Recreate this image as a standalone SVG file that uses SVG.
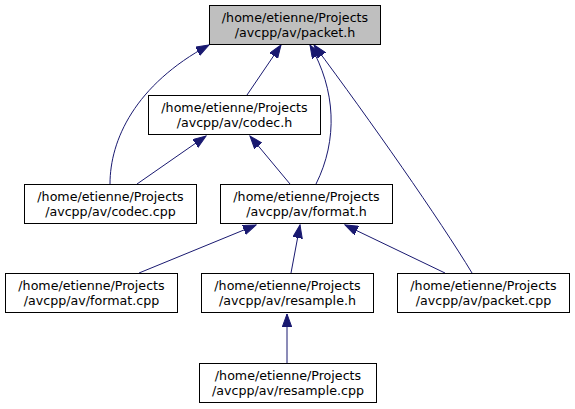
<svg xmlns="http://www.w3.org/2000/svg" width="575" height="409" viewBox="0 0 575 409">
<style>
.box{fill:#ffffff;stroke:#000000;stroke-width:1}
.root{fill:#bfbfbf;stroke:#000000;stroke-width:1}
text{font-family:"DejaVu Sans","Liberation Sans",sans-serif;font-size:12.65px;fill:#000000;text-anchor:middle}
.edge{fill:none;stroke:#191970;stroke-width:1;marker-end:url(#arr)}
</style>
<defs>
<marker id="arr" markerUnits="userSpaceOnUse" markerWidth="14" markerHeight="10" refX="13" refY="4.75" orient="auto">
<path d="M0,0 L13,4.75 L0,9.5 z" fill="#191970" stroke="#191970" stroke-width="1"/>
</marker>
</defs>
<rect width="575" height="409" fill="#ffffff"/>
<g id="connectors">
<path class="edge" d="M110,184 C110,140 135,85 209,45"/>
<path class="edge" d="M247,95 L281,45"/>
<path class="edge" d="M316,184 C338,140 336,90 310,45"/>
<path class="edge" d="M472,273 C440,220 370,120 314,45"/>
<path class="edge" d="M137,184 L206,136"/>
<path class="edge" d="M290,184 L250,136"/>
<path class="edge" d="M139,273 L256,225"/>
<path class="edge" d="M291,273 L300,225"/>
<path class="edge" d="M445,273 L345,225"/>
<path class="edge" d="M287,363 L287,314"/>
</g>
<g id="packet_h">
<rect class="root" x="209.5" y="5.5" width="171" height="39"/>
<text x="295" y="22">/home/etienne/Projects</text>
<text x="295" y="37">/avcpp/av/packet.h</text>
</g>
<g id="codec_h">
<rect class="box" x="148.5" y="95.5" width="172" height="39"/>
<text x="234.5" y="112">/home/etienne/Projects</text>
<text x="234.5" y="127">/avcpp/av/codec.h</text>
</g>
<g id="codec_cpp">
<rect class="box" x="24.5" y="184.5" width="172" height="39"/>
<text x="110.5" y="201">/home/etienne/Projects</text>
<text x="110.5" y="216">/avcpp/av/codec.cpp</text>
</g>
<g id="format_h">
<rect class="box" x="220.5" y="184.5" width="172" height="39"/>
<text x="306.5" y="201">/home/etienne/Projects</text>
<text x="306.5" y="216">/avcpp/av/format.h</text>
</g>
<g id="format_cpp">
<rect class="box" x="5.5" y="273.5" width="172" height="39"/>
<text x="91.5" y="290">/home/etienne/Projects</text>
<text x="91.5" y="305">/avcpp/av/format.cpp</text>
</g>
<g id="resample_h">
<rect class="box" x="201.5" y="273.5" width="172" height="39"/>
<text x="287.5" y="290">/home/etienne/Projects</text>
<text x="287.5" y="305">/avcpp/av/resample.h</text>
</g>
<g id="packet_cpp">
<rect class="box" x="397.5" y="273.5" width="172" height="39"/>
<text x="483.5" y="290">/home/etienne/Projects</text>
<text x="483.5" y="305">/avcpp/av/packet.cpp</text>
</g>
<g id="resample_cpp">
<rect class="box" x="199.5" y="363.5" width="177" height="39"/>
<text x="288" y="380">/home/etienne/Projects</text>
<text x="288" y="395">/avcpp/av/resample.cpp</text>
</g>
</svg>
